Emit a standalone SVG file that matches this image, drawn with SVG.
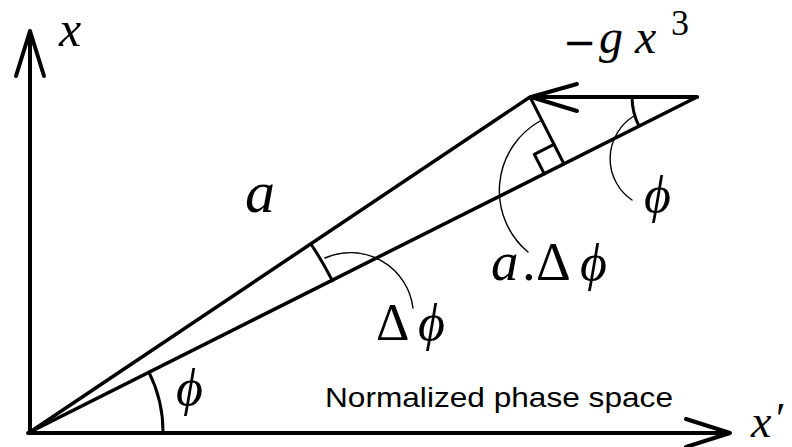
<svg xmlns="http://www.w3.org/2000/svg" width="792" height="447" viewBox="0 0 792 447">
<style>
.ln{fill:none;stroke:#000;stroke-linecap:round;stroke-linejoin:round}
.ax{stroke-width:4}
.vec{stroke-width:3.5}
.thk{stroke-width:3}
.thin{stroke-width:1.4}
.m{font-family:"Liberation Serif","DejaVu Serif",serif;font-style:italic;fill:#000}
.r{font-family:"Liberation Serif","DejaVu Serif",serif;font-style:normal;fill:#000}
.op{font-family:"DejaVu Sans",sans-serif;fill:#000}
.s{font-family:"Liberation Sans",Arial,sans-serif;fill:#000}
</style>
<rect width="792" height="447" fill="#fff"/>
<g id="connectors">
  <path class="ln ax" d="M30,433 L30,34"/>
  <path class="ln ax" d="M16,76 L30,31 L44,76"/>
  <path class="ln ax" d="M28,433 L726,433"/>
  <path class="ln ax" d="M686,419 L730,433 L686,447"/>
  <path class="ln vec" d="M30,432 L530,97"/>
  <path class="ln vec" d="M30,432 L697,97"/>
  <path class="ln ax" d="M697,97 L533,97"/>
  <path class="ln ax" d="M577,84 L531,97 L577,111"/>
  <path class="ln thk" d="M530,97 L564,164"/>
  <path class="ln thk" d="M544.3,173.9 L534.3,154.3 L554,144.4"/>
  <path class="ln thk" d="M163,432 A133,133 0 0 0 149,372.4"/>
  <path class="ln thk" d="M310.9,244 A338,338 0 0 1 332.3,280.7"/>
  <path class="ln thk" d="M632,97 A65,65 0 0 0 639,126"/>
  <path class="ln thin" d="M325,258 A63,63 0 0 1 413,308"/>
  <path class="ln thin" d="M540,121 A80,80 0 0 0 528,252"/>
  <path class="ln thin" d="M634,116 A50,50 0 0 0 632,200"/>
</g>
<g id="label-x"><text class="m" x="59" y="46" font-size="50">x</text></g>
<g id="label-force">
  <text class="op" x="563" y="56" font-size="40">−</text>
  <text class="m" x="599" y="53" font-size="48">g</text>
  <text class="m" x="635" y="53" font-size="48">x</text>
  <text class="r" x="671" y="35" font-size="36">3</text>
</g>
<g id="label-a"><text class="m" x="245" y="212" font-size="60">a</text></g>
<g id="label-phi-right"><text class="m" x="644" y="212" font-size="52">ϕ</text></g>
<g id="label-adphi">
  <text class="m" x="491" y="280" font-size="55">a</text>
  <text class="r" x="522" y="280" font-size="55">.</text>
  <text class="r" x="536" y="280" font-size="54">Δ</text>
  <text class="m" x="580" y="280" font-size="52">ϕ</text>
</g>
<g id="label-dphi">
  <text class="r" x="376" y="340" font-size="52">Δ</text>
  <text class="m" x="418" y="340" font-size="52">ϕ</text>
</g>
<g id="label-phi-origin"><text class="m" x="176" y="405" font-size="52">ϕ</text></g>
<g id="label-caption"><text class="s" x="325" y="407" font-size="28" textLength="348" lengthAdjust="spacingAndGlyphs">Normalized phase space</text></g>
<g id="label-xprime">
  <text class="m" x="751" y="437" font-size="46">x</text>
  <text class="r" x="776" y="433" font-size="44">′</text>
</g>
</svg>
